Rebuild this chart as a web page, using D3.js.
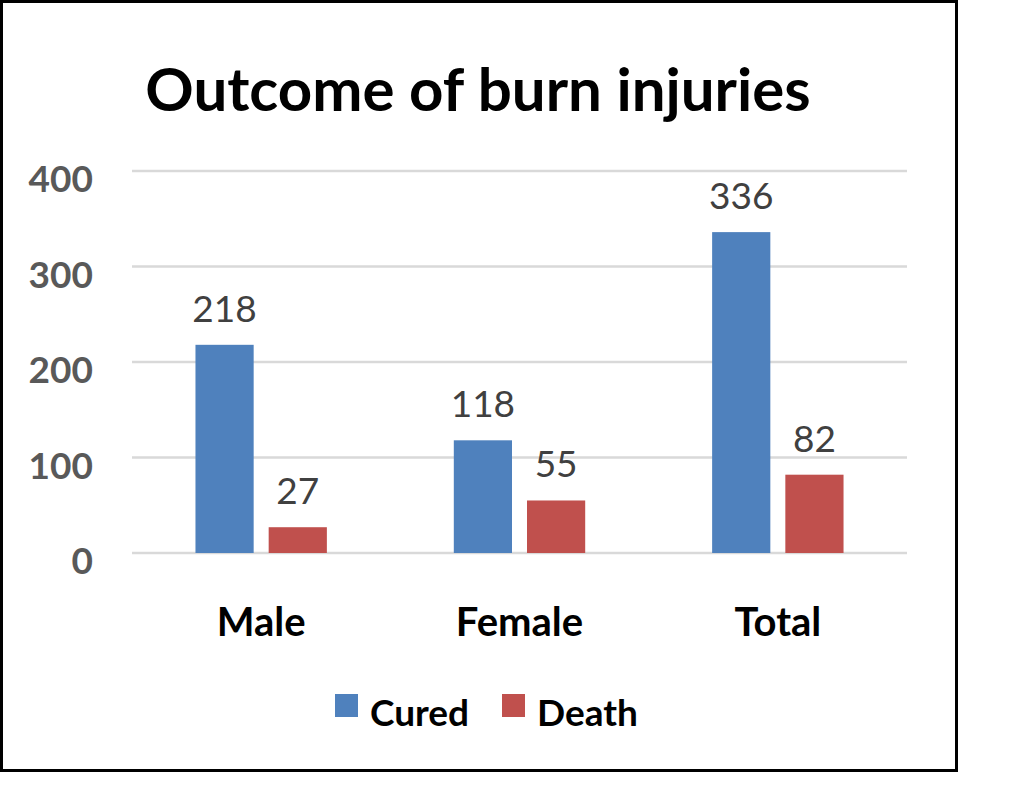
<!DOCTYPE html>
<html>
<head>
<meta charset="utf-8">
<script src="https://cdn.jsdelivr.net/npm/d3@7"></script>
<style>
  body { margin: 0; background: #fff; }
  text { font-family: Lato, "Open Sans", sans-serif; }
</style>
</head>
<body>
<div id="chart"></div>
<script>
var categories = ["Male", "Female", "Total"];
var seriesNames = ["Cured", "Death"];
var cured = [218, 118, 336];
var death = [27, 55, 82];
var yTicks = [0, 100, 200, 300, 400];
var colors = ["#4F81BD", "#C0504D"];

var width = 1032,
	height = 808;

var svg = d3.select("#chart").append("svg")
	.attr("width", width)
	.attr("height", height);

// outer frame
svg.append("rect")
	.attr("x", 1.5)
	.attr("y", 1.5)
	.attr("width", 955)
	.attr("height", 769)
	.attr("fill", "#fff")
	.attr("stroke", "#000")
	.attr("stroke-width", 3);

var plot = { left: 132, right: 907, top: 171, bottom: 553 };

var x = d3.scaleBand()
	.domain(categories)
	.range([plot.left, plot.right]);

var xs = d3.scaleBand()
	.domain(seriesNames)
	.range([0, x.bandwidth()])
	.paddingInner(0.205)
	.paddingOuter(0.867);

var y = d3.scaleLinear()
	.domain([0, 400])
	.range([plot.bottom, plot.top]);

// title
svg.append("text")
	.attr("x", 478)
	.attr("y", 111)
	.attr("text-anchor", "middle")
	.attr("font-weight", "bold")
	.attr("font-size", 60)
	.attr("fill", "#000")
	.text("Outcome of burn injuries");

// gridlines
svg.append("g")
	.selectAll("line")
	.data(yTicks)
	.join("line")
	.attr("x1", plot.left)
	.attr("x2", plot.right)
	.attr("y1", function(d) { return y(d); })
	.attr("y2", function(d) { return y(d); })
	.attr("stroke", "#d9d9d9")
	.attr("stroke-width", 2.5);

// y axis labels
svg.append("g")
	.selectAll("text")
	.data(yTicks)
	.join("text")
	.attr("x", 93)
	.attr("y", function(d) { return y(d) + 21; })
	.attr("text-anchor", "end")
	.attr("font-weight", "bold")
	.attr("font-size", 37)
	.attr("fill", "#595959")
	.text(function(d) { return d; });

var rows = categories.map(function(c, i) {
	return { category: c, values: [cured[i], death[i]] };
});

var groups = svg.append("g")
	.selectAll("g")
	.data(rows)
	.join("g")
	.attr("transform", function(d) { return "translate(" + x(d.category) + ",0)"; });

groups.selectAll("rect")
	.data(function(d) { return d.values.map(function(v, j) { return { key: seriesNames[j], value: v, idx: j }; }); })
	.join("rect")
	.attr("x", function(d) { return xs(d.key); })
	.attr("y", function(d) { return y(d.value); })
	.attr("width", xs.bandwidth())
	.attr("height", function(d) { return y(0) - y(d.value); })
	.attr("fill", function(d) { return colors[d.idx]; });

groups.selectAll("text")
	.data(function(d) { return d.values.map(function(v, j) { return { key: seriesNames[j], value: v }; }); })
	.join("text")
	.attr("x", function(d) { return xs(d.key) + xs.bandwidth() / 2; })
	.attr("y", function(d) { return y(d.value) - 23; })
	.attr("text-anchor", "middle")
	.attr("font-size", 37)
	.attr("fill", "#404040")
	.text(function(d) { return d.value; });

// category labels
svg.append("g")
	.selectAll("text")
	.data(categories)
	.join("text")
	.attr("x", function(d) { return x(d) + x.bandwidth() / 2; })
	.attr("y", 636)
	.attr("text-anchor", "middle")
	.attr("font-weight", "bold")
	.attr("font-size", 40)
	.attr("fill", "#000")
	.text(function(d) { return d; });

// legend
var legendX = [335, 502];
var legend = svg.append("g")
	.selectAll("g")
	.data(seriesNames)
	.join("g")
	.attr("transform", function(d, i) { return "translate(" + legendX[i] + ",694)"; });

legend.append("rect")
	.attr("width", 23)
	.attr("height", 23)
	.attr("fill", function(d, i) { return colors[i]; });

legend.append("text")
	.attr("x", 35)
	.attr("y", 32)
	.attr("font-weight", "bold")
	.attr("font-size", 37)
	.attr("fill", "#000")
	.text(function(d) { return d; });
</script>
</body>
</html>
